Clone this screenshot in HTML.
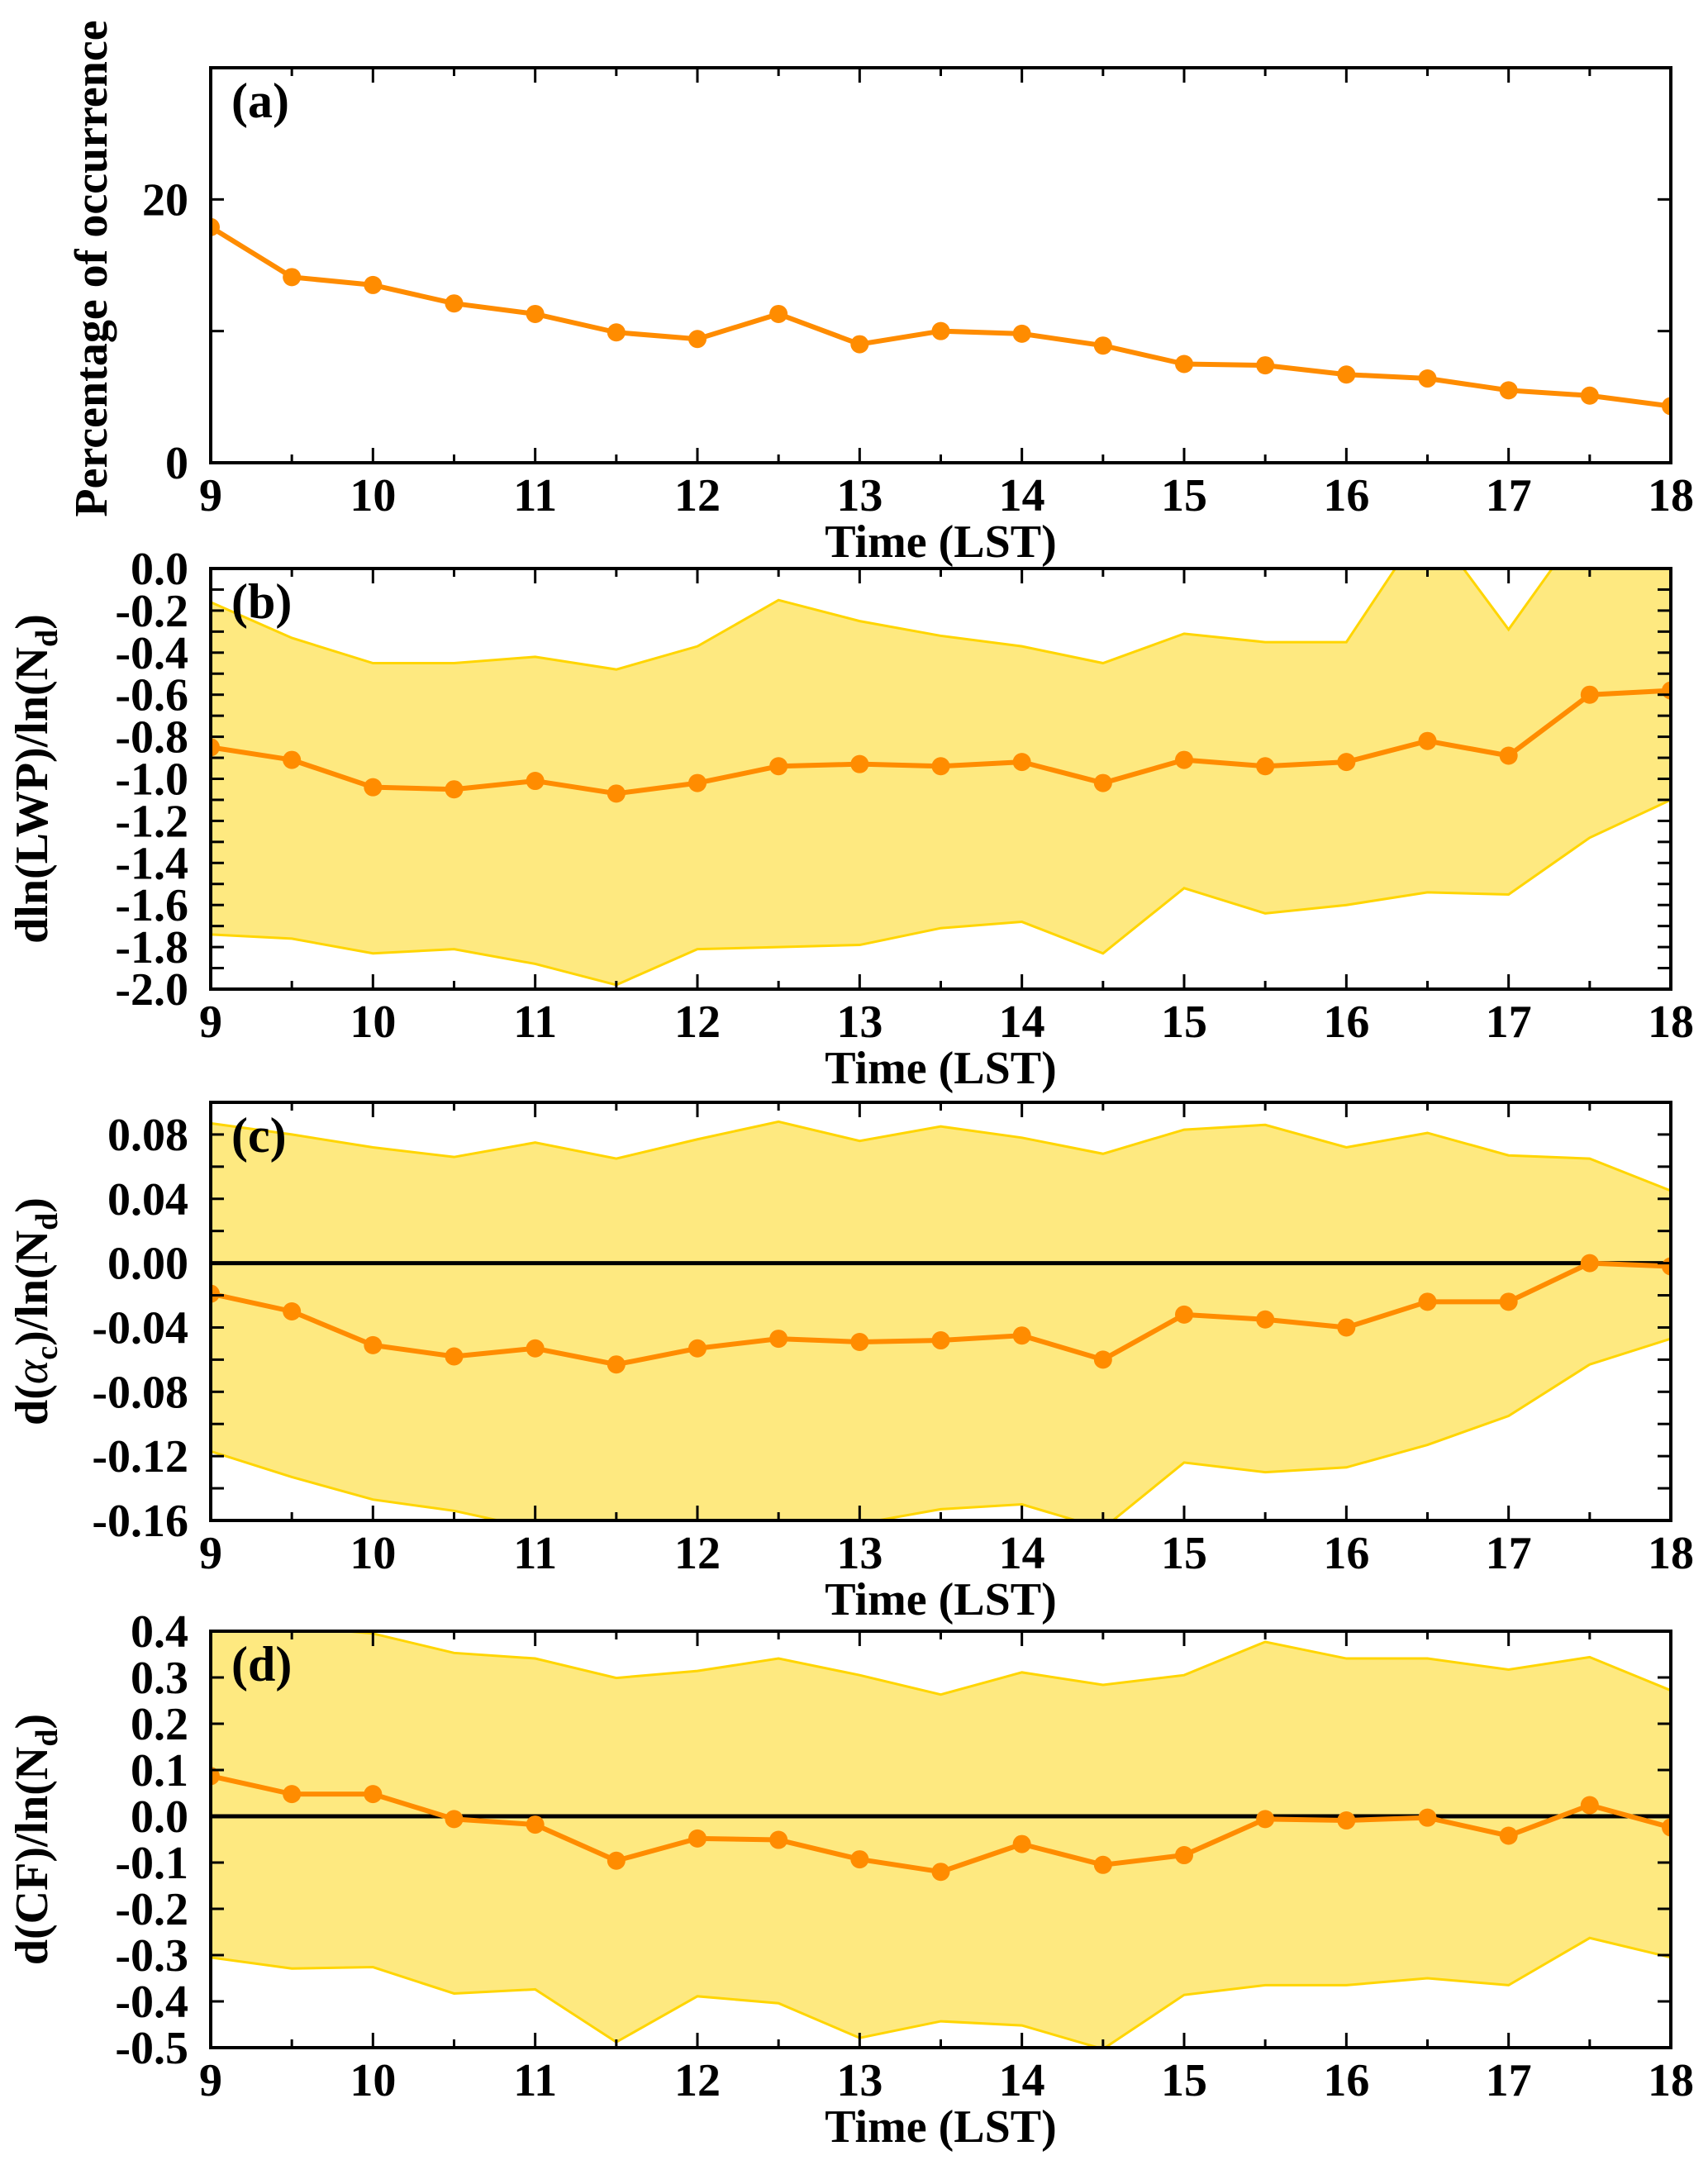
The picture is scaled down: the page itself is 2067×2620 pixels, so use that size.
<!DOCTYPE html>
<html><head><meta charset="utf-8">
<style>
html,body{margin:0;padding:0;background:#fff;}
svg{display:block;}
text{font-family:"Liberation Serif",serif;font-weight:bold;fill:#000;}
</style></head>
<body>
<svg id="fig" width="2067" height="2620" viewBox="0 0 2067 2620" xmlns="http://www.w3.org/2000/svg"></svg>
<script>
const hours = [9,9.5,10,10.5,11,11.5,12,12.5,13,13.5,14,14.5,15,15.5,16,16.5,17,17.5,18];
const xTicks = [9,10,11,12,13,14,15,16,17,18];
// panel a
const occurrence = [17.9,14.1,13.5,12.1,11.3,9.9,9.4,11.3,9.0,10.0,9.8,8.9,7.5,7.4,6.7,6.4,5.5,5.1,4.3];
const aTicks = [0,20];
// panel b
const lwpMean = [-0.85,-0.91,-1.04,-1.05,-1.01,-1.07,-1.02,-0.94,-0.93,-0.94,-0.92,-1.02,-0.91,-0.94,-0.92,-0.82,-0.89,-0.60,-0.58];
const lwpUpper = [-0.16,-0.33,-0.45,-0.45,-0.42,-0.48,-0.37,-0.15,-0.25,-0.32,-0.37,-0.45,-0.31,-0.35,-0.35,0.23,-0.29,0.25,0.3];
const lwpLower = [-1.74,-1.76,-1.83,-1.81,-1.88,-1.98,-1.81,-1.80,-1.79,-1.71,-1.68,-1.83,-1.52,-1.64,-1.60,-1.54,-1.55,-1.28,-1.10];
const bTicks = ["0.0","-0.2","-0.4","-0.6","-0.8","-1.0","-1.2","-1.4","-1.6","-1.8","-2.0"];
// panel c
const acMean = [-0.019,-0.030,-0.051,-0.058,-0.053,-0.063,-0.053,-0.047,-0.049,-0.048,-0.045,-0.060,-0.032,-0.035,-0.040,-0.024,-0.024,0.000,-0.002];
const acUpper = [0.087,0.080,0.072,0.066,0.075,0.065,0.077,0.088,0.076,0.085,0.078,0.068,0.083,0.086,0.072,0.081,0.067,0.065,0.045];
const acLower = [-0.117,-0.133,-0.147,-0.154,-0.165,-0.170,-0.168,-0.165,-0.162,-0.153,-0.150,-0.165,-0.124,-0.130,-0.127,-0.113,-0.095,-0.063,-0.047];
const cTicks = ["0.08","0.04","0.00","-0.04","-0.08","-0.12","-0.16"];
// panel d
const cfMean = [0.087,0.048,0.048,-0.006,-0.018,-0.096,-0.048,-0.051,-0.093,-0.120,-0.060,-0.105,-0.084,-0.006,-0.009,-0.003,-0.042,0.024,-0.024];
const cfUpper = [0.40,0.41,0.395,0.353,0.341,0.299,0.314,0.341,0.305,0.263,0.311,0.284,0.305,0.377,0.341,0.341,0.317,0.344,0.272];
const cfLower = [-0.305,-0.329,-0.326,-0.383,-0.374,-0.488,-0.389,-0.404,-0.479,-0.443,-0.452,-0.503,-0.386,-0.365,-0.365,-0.350,-0.365,-0.263,-0.305];
const dTicks = ["0.4","0.3","0.2","0.1","0.0","-0.1","-0.2","-0.3","-0.4","-0.5"];

const NS="http://www.w3.org/2000/svg";
const svg=document.getElementById('fig');
const X0=255, X1=2022;
function xs(h){return X0+(h-9)/9*(X1-X0);}
function mk(tag,attrs,parent){const e=document.createElementNS(NS,tag);for(const k in attrs)e.setAttribute(k,attrs[k]);(parent||svg).appendChild(e);return e;}

const defs=mk('defs',{});
function panel(id,top,bot,ymin,ymax,minorStep,tickVals,tickLabels,mean,upper,lower,zeroLine,letter,ylabelFn){
  const g=mk('g',{});
  
  
  const ys=v=>bot-(v-ymin)/(ymax-ymin)*(bot-top);
  const cp=mk('clipPath',{id:'clip'+id},defs);
  mk('rect',{x:X0,y:top,width:X1-X0,height:bot-top},cp);
  const inner=mk('g',{'clip-path':'url(#clip'+id+')'},g);
  if(upper){
    let d='';
    hours.forEach((h,i)=>{d+=(i?'L':'M')+xs(h)+','+ys(upper[i]);});
    for(let i=hours.length-1;i>=0;i--)d+='L'+xs(hours[i])+','+ys(lower[i]);
    d+='Z';
    const band=mk('path',{d:d,fill:'#FEE980',stroke:'none'},inner);
    
    
    const pu=hours.map((h,i)=>xs(h)+','+ys(upper[i])).join(' ');
    const pl=hours.map((h,i)=>xs(h)+','+ys(lower[i])).join(' ');
    const ul=mk('polyline',{points:pu,fill:'none',stroke:'#FFD500','stroke-width':3},inner);
    
    
    const ll=mk('polyline',{points:pl,fill:'none',stroke:'#FFD500','stroke-width':3},inner);
    
    
  }
  if(zeroLine){
    const z=mk('line',{x1:X0,x2:X1,y1:ys(0),y2:ys(0),stroke:'#000','stroke-width':5},inner);
    
    
  }
  const pm=hours.map((h,i)=>xs(h)+','+ys(mean[i])).join(' ');
  const ml=mk('polyline',{points:pm,fill:'none',stroke:'#FF8C00','stroke-width':6,'stroke-linejoin':'round'},inner);
  
  
  hours.forEach((h,i)=>{
    const c=mk('circle',{cx:xs(h),cy:ys(mean[i]),r:11,fill:'#FF8C00'},inner);
    
    
  });
  hours.forEach(h=>{
    const L=Number.isInteger(h)?18:10;
    mk('line',{x1:xs(h),x2:xs(h),y1:bot,y2:bot-L,stroke:'#000','stroke-width':3},g);
    mk('line',{x1:xs(h),x2:xs(h),y1:top,y2:top+L,stroke:'#000','stroke-width':3},g);
  });
  const n=Math.round((ymax-ymin)/minorStep);
  for(let k=0;k<=n;k++){
    const v=ymin+k*minorStep;const y=ys(v);
    mk('line',{x1:X0,x2:X0+16,y1:y,y2:y,stroke:'#000','stroke-width':3},g);
    mk('line',{x1:X1,x2:X1-16,y1:y,y2:y,stroke:'#000','stroke-width':3},g);
  }
  const fr=mk('rect',{x:X0,y:top,width:X1-X0,height:bot-top,fill:'none',stroke:'#000','stroke-width':4},g);
  
  
  tickVals.forEach((v,i)=>{
    const t=mk('text',{x:228,y:ys(v)+19,'text-anchor':'end','font-size':56},g);
    t.textContent=tickLabels[i];
    
    
  });
  xTicks.forEach(h=>{
    const t=mk('text',{x:xs(h),y:bot+58,'text-anchor':'middle','font-size':56},g);
    t.textContent=h;
    
    
  });
  const xt=mk('text',{x:(X0+X1)/2,y:bot+114,'text-anchor':'middle','font-size':56},g);
  xt.textContent='Time (LST)';
  
  
  const pl=mk('text',{x:280,y:top+60,'font-size':60},g);
  pl.textContent='('+letter+')';
  
  
  const yl=ylabelFn(g,(top+bot)/2);
  
  
}
function ylab(g,cx,cy,html){
  const t=mk('text',{x:0,y:0,'text-anchor':'middle','font-size':56,transform:'translate('+cx+','+cy+') rotate(-90)'},g);
  t.innerHTML=html;return t;
}
panel('a',82,560,0,30,10,aTicks,aTicks.map(String),occurrence,null,null,false,'a',
  (g,cy)=>ylab(g,129,cy+4,'Percentage of occurrence'));
panel('b',688,1197,-2,0,0.1,bTicks.map(Number),bTicks,lwpMean,lwpUpper,lwpLower,false,'b',
  (g,cy)=>ylab(g,57,cy,'dln(LWP)/ln(N<tspan font-size="38" dy="12">d</tspan><tspan dy="-12">)</tspan>'));
panel('c',1334,1840,-0.16,0.10,0.02,cTicks.map(Number),cTicks,acMean,acUpper,acLower,true,'c',
  (g,cy)=>ylab(g,57,cy,'d(<tspan font-style="italic" font-weight="normal">α</tspan><tspan font-size="38" dy="12">c</tspan><tspan dy="-12">)/ln(N</tspan><tspan font-size="38" dy="12">d</tspan><tspan dy="-12">)</tspan>'));
panel('d',1974,2478,-0.5,0.4,0.1,dTicks.map(Number),dTicks,cfMean,cfUpper,cfLower,true,'d',
  (g,cy)=>ylab(g,57,cy,'d(CF)/ln(N<tspan font-size="38" dy="12">d</tspan><tspan dy="-12">)</tspan>'));
</script>
</body></html>
